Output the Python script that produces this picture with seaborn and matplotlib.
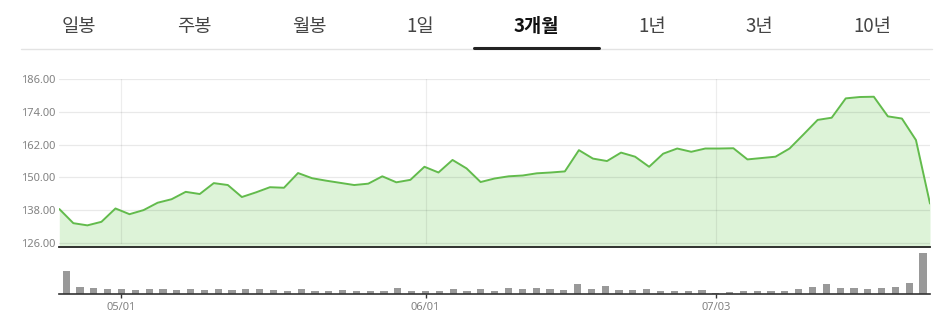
import matplotlib
matplotlib.use("Agg")
import matplotlib.pyplot as plt
import matplotlib.transforms as mtransforms
from matplotlib.lines import Line2D
import seaborn as sns
import pandas as pd
import numpy as np

# ---------------- data ----------------
tabs = ["일봉", "주봉", "월봉", "1일", "3개월", "1년", "3년", "10년"]
active_tab = "3개월"

dates = pd.bdate_range("2023-04-25", "2023-07-25", freq="C",
                       holidays=["2023-05-29", "2023-06-19", "2023-07-04"])

close = [138.4, 133.2, 132.4, 133.7, 138.6, 136.5, 138.0, 140.7, 142.0, 144.7,
         143.9, 147.9, 147.2, 142.8, 144.5, 146.4, 146.2, 151.6, 149.7, 148.8,
         148.0, 147.2, 147.7, 150.4, 148.2, 149.1, 153.9, 151.8, 156.4, 153.3,
         148.3, 149.6, 150.4, 150.7, 151.5, 151.8, 152.2, 160.0, 156.9, 156.0,
         159.1, 157.6, 153.9, 158.7, 160.6, 159.4, 160.6, 160.6, 160.7, 156.6,
         157.1, 157.6, 160.6, 165.8, 171.1, 171.9, 179.0, 179.5, 179.6, 172.4,
         171.6, 163.7, 140.4]

volume = [7.0, 2.1, 1.8, 1.4, 1.4, 1.2, 1.4, 1.4, 1.2, 1.5, 1.2, 1.5, 1.2, 1.5,
          1.4, 1.2, 0.9, 1.4, 0.9, 0.8, 1.2, 1.0, 1.0, 1.0, 1.9, 1.0, 1.0, 1.0,
          1.5, 1.0, 1.4, 0.9, 1.8, 1.4, 1.8, 1.5, 1.2, 3.0, 1.4, 2.4, 1.2, 1.2,
          1.5, 0.9, 0.8, 0.8, 1.2, 0.4, 0.6, 0.9, 0.8, 0.8, 0.9, 1.4, 2.1, 3.0,
          1.9, 1.9, 1.4, 1.8, 2.1, 3.4, 12.4]

y_ticks = [126, 138, 150, 162, 174, 186]
date_ticks = ["05/01", "06/01", "07/03"]

df = pd.DataFrame({"idx": np.arange(len(close)), "date": dates[:len(close)],
                   "close": close, "volume": volume})
df["label"] = df["date"].dt.strftime("%m/%d")

# ---------------- style ----------------
sns.set_theme(style="white")
plt.rcParams["font.family"] = ["Noto Sans", "Noto Sans CJK KR", "DejaVu Sans"]

W, H = 951, 318
fig = plt.figure(figsize=(W / 100, H / 100), dpi=100)
fig.patch.set_facecolor("white")

def fx(px):
    return px / W

def fy(py):
    return 1 - py / H

LINE_C = "#62bb4c"
FILL_C = "#ddf3d8"
TXT_C = "#828282"

x0, x1 = 59.3, 930.0
ax = fig.add_axes([fx(x0), fy(247.3), fx(x1 - x0), (247.3 - 79.3) / H])
axv = fig.add_axes([fx(x0), fy(294), fx(x1 - x0), 45 / H])

# ---------------- price chart ----------------
ymin = 124.35
ax.fill_between(df["idx"], ymin, df["close"], color=FILL_C, linewidth=0, zorder=1)
sns.lineplot(data=df, x="idx", y="close", ax=ax, color=LINE_C, linewidth=1.4, zorder=3)
ax.set_xlim(0, len(close) - 1)
ax.set_ylim(ymin, 186)
ax.set_yticks(y_ticks)
ax.set_yticklabels([f"{v:.2f}" for v in y_ticks], color=TXT_C, fontsize=8)
ax.tick_params(axis="y", length=0, pad=3)
ax.set_xticks([])
ax.set_xlabel("")
ax.set_ylabel("")
for v in y_ticks:
    ax.axhline(v, color="black", alpha=0.085, linewidth=0.9, zorder=2)
for s in ["top", "right", "left"]:
    ax.spines[s].set_visible(False)
ax.spines["bottom"].set_color("#222222")
ax.spines["bottom"].set_linewidth(1.3)
ax.set_facecolor("white")

# ---------------- volume chart ----------------
sns.barplot(data=df, x="idx", y="volume", ax=axv, color="#999999",
            saturation=1, width=0.52, linewidth=0, edgecolor="none")
axv.set_xlim(-0.5, len(volume) - 0.5)
axv.set_ylim(0, max(volume) * 1.09)
tick_pos = [int(df.index[df["label"] == d][0]) for d in date_ticks]
axv.set_xticks(tick_pos)
axv.set_xticklabels(date_ticks, color=TXT_C, fontsize=8)
axv.tick_params(axis="x", length=3, width=1, color="#333333", pad=3, bottom=True)
axv.set_yticks([])
axv.set_xlabel("")
axv.set_ylabel("")
for s in ["top", "right", "left"]:
    axv.spines[s].set_visible(False)
axv.spines["bottom"].set_color("#333333")
axv.spines["bottom"].set_linewidth(1.2)
axv.set_facecolor("none")

# vertical grid lines on price chart aligned with volume date ticks
trans = mtransforms.blended_transform_factory(axv.transData, ax.transData)
for p in tick_pos:
    ax.plot([p, p], [126, 186], transform=trans, color="black", alpha=0.07,
            linewidth=0.9, zorder=2)

# ---------------- tabs header ----------------
tab_x = [79, 194, 309, 420, 536.5, 652, 759.5, 872]
for t, xc in zip(tabs, tab_x):
    is_active = t == active_tab
    fig.text(fx(xc), fy(26.5), t, ha="center", va="center",
             fontsize=13.5, family=["Noto Sans CJK KR", "DejaVu Sans"],
             fontweight="bold" if is_active else "normal",
             color="#111111" if is_active else "#444444")
fig.add_artist(Line2D([fx(21), fx(932)], [fy(48.5), fy(48.5)],
                      color="#e3e3e3", linewidth=1.0))
fig.add_artist(Line2D([fx(474), fx(598.7)], [fy(47.5), fy(47.5)],
                      color="#222222", linewidth=2.2))

fig.savefig("out.png", dpi=100, facecolor="white")
